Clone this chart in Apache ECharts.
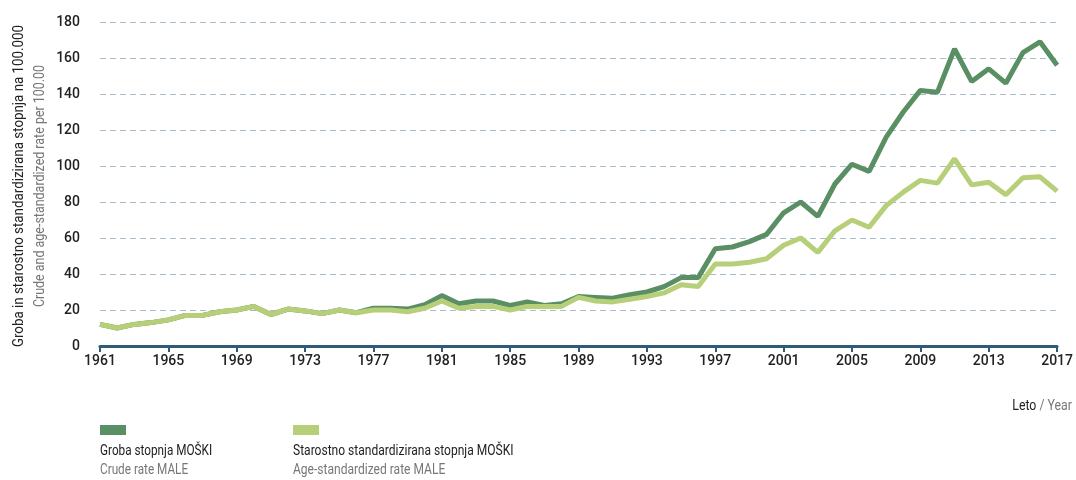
<!DOCTYPE html>
<html>
<head>
<meta charset="utf-8">
<script src="https://cdn.jsdelivr.net/npm/echarts@6/dist/echarts.min.js"></script>
<style>
  html, body { margin: 0; padding: 0; background: #fff; }
  #chart { width: 1076px; height: 480px; }
</style>
</head>
<body>
<div id="chart"></div>
<script>
// leta
const years = [];
for (let y = 1961; y <= 2017; y++) years.push(String(y));

// groba stopnja MOŠKI
const crudeRate = [
  12, 10, 12, 13, 14.5, 17, 17, 19, 20, 22,
  17.5, 20.5, 19.5, 18, 20, 18.5, 21, 21, 20.5, 23,
  28, 23.5, 25, 25, 22.5, 24.5, 22.5, 23.5, 27.5, 27,
  26.5, 28.5, 30, 33, 38, 38, 54, 55, 58, 62,
  74, 80, 72, 90, 101, 97, 116, 130, 142, 141,
  165, 147, 154, 146, 163, 169, 156
];

// starostno standardizirana stopnja MOŠKI
const ageStdRate = [
  12, 10, 12, 13, 14.5, 17, 17, 19, 20, 22,
  17.5, 20.5, 19.5, 18, 20, 18.5, 20, 20, 19, 21,
  25, 21, 22, 22, 20, 22, 22, 22, 27, 25,
  24.5, 26, 27.5, 29.5, 34, 33, 45.5, 45.5, 46.5, 48.5,
  56, 60, 52, 64, 70, 66, 78, 85.5, 92, 90.5,
  104, 89.5, 91, 84, 93.5, 94, 86
];

const yTicks = [0, 20, 40, 60, 80, 100, 120, 140, 160, 180];

const darkGreen = '#5a8f63';
const lightGreen = '#b6cf78';
const font = "'Roboto', sans-serif";

const chart = echarts.init(document.getElementById('chart'));

const option = {
  animation: false,
  grid: { left: 100, right: 13, top: 22, bottom: 134 },
  xAxis: {
    type: 'category',
    data: years,
    boundaryGap: false,
    axisLine: { lineStyle: { color: '#2e5b78', width: 3 } },
    axisTick: { interval: 3, length: 6, lineStyle: { color: '#2e5b78', width: 2 } },
    axisLabel: { interval: 3, color: '#222', fontSize: 14, fontWeight: 500, fontFamily: font, margin: 8 }
  },
  yAxis: {
    type: 'value',
    min: yTicks[0],
    max: yTicks[yTicks.length - 1],
    interval: 20,
    axisLine: { show: false },
    axisTick: { show: false },
    axisLabel: { color: '#222', fontSize: 14, fontWeight: 500, fontFamily: font, margin: 20 },
    splitLine: { lineStyle: { color: '#a8bccb', type: [6, 4], width: 1 } }
  },
  series: [
    {
      name: 'Starostno standardizirana stopnja MOŠKI',
      type: 'line',
      data: ageStdRate,
      symbol: 'none',
      lineStyle: { color: lightGreen, width: 5 },
      z: 2
    },
    {
      name: 'Groba stopnja MOŠKI',
      type: 'line',
      data: crudeRate,
      symbol: 'none',
      lineStyle: { color: darkGreen, width: 5 },
      z: 1
    }
  ],
  graphic: [
    {
      type: 'text', x: 19, y: 186, rotation: Math.PI / 2, scaleX: 0.89,
      style: { text: 'Groba in starostno standardizirana stopnja na 100.000', fill: '#222',
        font: '15px ' + font, textAlign: 'center', textVerticalAlign: 'middle' }
    },
    {
      type: 'text', x: 40, y: 186, rotation: Math.PI / 2, scaleX: 0.89,
      style: { text: 'Crude and age-standardized rate per 100.00', fill: '#777',
        font: '14px ' + font, textAlign: 'center', textVerticalAlign: 'middle' }
    },
    {
      type: 'text', x: 1072, y: 406, scaleX: 0.88,
      style: { text: '{a|Leto} {b|/ Year}', font: '14px ' + font, textAlign: 'right', textVerticalAlign: 'middle',
        rich: { a: { fill: '#222', fontSize: 14, fontFamily: font }, b: { fill: '#777', fontSize: 14, fontFamily: font } } }
    },
    { type: 'rect', shape: { x: 100, y: 425, width: 26, height: 10 }, style: { fill: darkGreen } },
    {
      type: 'text', x: 100, y: 451, scaleX: 0.84,
      style: { text: 'Groba stopnja MOŠKI', fill: '#222', font: '14px ' + font, textVerticalAlign: 'middle' }
    },
    {
      type: 'text', x: 100, y: 470, scaleX: 0.84,
      style: { text: 'Crude rate MALE', fill: '#777', font: '14px ' + font, textVerticalAlign: 'middle' }
    },
    { type: 'rect', shape: { x: 293, y: 425, width: 26, height: 10 }, style: { fill: lightGreen } },
    {
      type: 'text', x: 293, y: 451, scaleX: 0.86,
      style: { text: 'Starostno standardizirana stopnja MOŠKI', fill: '#222', font: '14px ' + font, textVerticalAlign: 'middle' }
    },
    {
      type: 'text', x: 293, y: 470, scaleX: 0.86,
      style: { text: 'Age-standardized rate MALE', fill: '#777', font: '14px ' + font, textVerticalAlign: 'middle' }
    }
  ]
};

chart.setOption(option);
</script>
</body>
</html>
